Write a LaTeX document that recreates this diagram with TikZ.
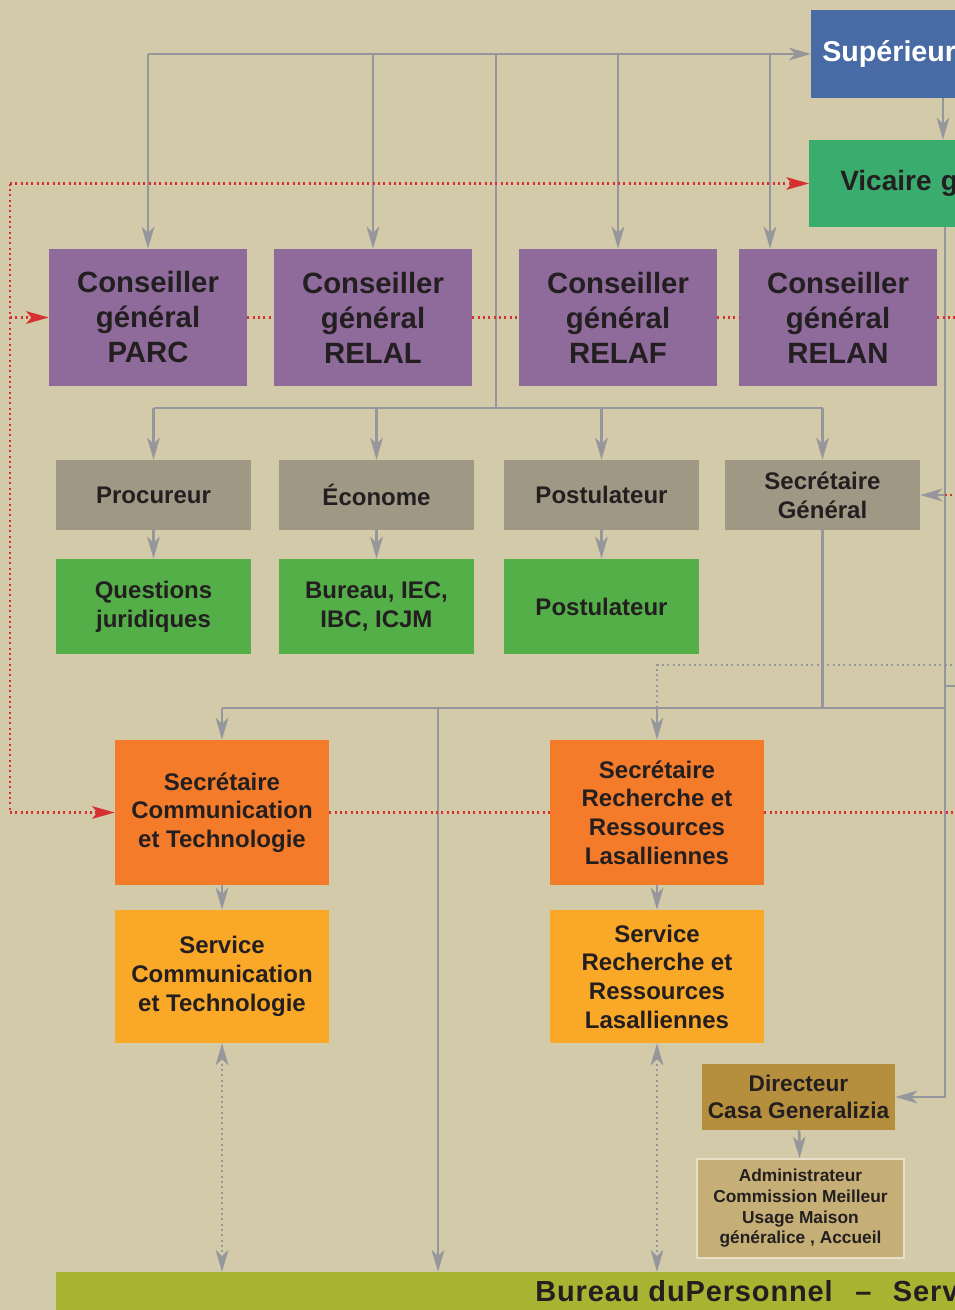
\documentclass[tikz,border=0pt]{standalone}
\usepackage{fontspec}
\setmainfont{Liberation Sans}
\usetikzlibrary{arrows.meta,calc}
\definecolor{bgc}{RGB}{211,202,170}
\definecolor{supc}{RGB}{72,107,166}
\definecolor{vicc}{RGB}{58,173,110}
\definecolor{purc}{RGB}{142,107,155}
\definecolor{greyc}{RGB}{158,152,132}
\definecolor{grnc}{RGB}{84,175,72}
\definecolor{orc}{RGB}{244,123,42}
\definecolor{lorc}{RGB}{250,168,40}
\definecolor{dirc}{RGB}{181,142,62}
\definecolor{admc}{RGB}{198,175,118}
\definecolor{barc}{RGB}{168,179,50}
\definecolor{linec}{RGB}{150,151,156}
\definecolor{redc}{RGB}{214,48,48}
\definecolor{txtc}{RGB}{35,31,32}
\begin{document}
\begin{tikzpicture}[x=0.75pt,y=-0.75pt,
  box/.style={rectangle, inner sep=0pt, align=center, text=txtc},
  sz/.style 2 args={minimum width={#1*0.75pt}, minimum height={#2*0.75pt}},
  fcons/.style={font=\fontsize{22pt}{26.25pt}\selectfont\bfseries},
  fmid/.style={font=\fontsize{18pt}{21.5pt}\selectfont\bfseries},
  fdir/.style={font=\fontsize{17pt}{20.25pt}\selectfont\bfseries},
  fadm/.style={font=\fontsize{13pt}{15.5pt}\selectfont\bfseries},
  gline/.style={draw=linec, line width=2pt},
  garr/.style={gline, -{Stealth[length=16.5pt,width=9.5pt,inset=4.5pt]}},
  gdot/.style={draw=linec, line width=1.6pt, dash pattern=on 1.6pt off 2.4pt},
  gdarr/.style={gdot, {Stealth[length=16.5pt,width=9.5pt,inset=4.5pt]}-{Stealth[length=16.5pt,width=9.5pt,inset=4.5pt]}},
  rdot/.style={draw=redc, line width=1.6pt, dash pattern=on 1.6pt off 2.4pt},
  rarr/.style={rdot, -{Stealth[length=17pt,width=9.5pt,inset=4pt,fill=redc]}},
]
\useasboundingbox (0,0) rectangle (955,1310);
\fill[bgc] (0,0) rectangle (955,1310);

% ---- nodes ----
\node[box, anchor=west, fill=supc, text=white, sz={0}{88}, inner xsep=8.25pt, text width=225pt, align=left,
  font=\fontsize{21.5pt}{26pt}\selectfont\bfseries] (sup) at (811,54) {Supérieur};
\node[box, anchor=west, fill=vicc, sz={0}{87}, inner xsep=23.25pt, text width=187.5pt, align=left,
  font=\fontsize{21pt}{26pt}\selectfont\bfseries] (vic) at (809,183.5) {Vicaire général};

\node[box, fill=purc, sz={198}{137}, fcons] (parc)  at (148,317.5) {Conseiller\\général\\PARC};
\node[box, fill=purc, sz={198}{137}, fcons] (relal) at (373,317.5) {Conseiller\\général\\RELAL};
\node[box, fill=purc, sz={198}{137}, fcons] (relaf) at (618,317.5) {Conseiller\\général\\RELAF};
\node[box, fill=purc, sz={198}{137}, fcons] (relan) at (838,317.5) {Conseiller\\général\\RELAN};

\node[box, fill=greyc, sz={195}{70}, fmid] (proc)   at (153.5,495) {Procureur};
\node[box, fill=greyc, sz={195}{70}, fmid] (econ)   at (376.5,495) {Économe};
\node[box, fill=greyc, sz={195}{70}, fmid] (postg)  at (601.5,495) {Postulateur};
\node[box, fill=greyc, sz={195}{70}, fmid] (secgen) at (822.5,495) {Secrétaire\\Général};

\node[box, fill=grnc, sz={195}{95}, fmid] (quest)  at (153.5,606.5) {Questions\\juridiques};
\node[box, fill=grnc, sz={195}{95}, fmid] (bureau) at (376.5,606.5) {Bureau, IEC,\\IBC, ICJM};
\node[box, fill=grnc, sz={195}{95}, fmid] (postv)  at (601.5,606.5) {Postulateur};

\node[box, fill=orc, sz={214}{145}, fmid] (seccomm) at (222,812.5) {Secrétaire\\Communication\\et Technologie};
\node[box, fill=orc, sz={214}{145}, fmid] (secrech) at (657,812.5) {Secrétaire\\Recherche et\\Ressources\\Lasalliennes};
\node[box, fill=lorc, sz={214}{133}, fmid] (servcomm) at (222,976.5) {Service\\Communication\\et Technologie};
\node[box, fill=lorc, sz={214}{133}, fmid] (servrech) at (657,976.5) {Service\\Recherche et\\Ressources\\Lasalliennes};

\node[box, fill=dirc, sz={193}{66}, fdir] (dir) at (798.5,1097) {Directeur\\Casa Generalizia};
\node[box, fill=admc, draw=admc!40!white, line width=0.8pt, sz={207}{99}, fadm] (admin) at (800.5,1208.5)
  {Administrateur\\Commission Meilleur\\Usage Maison\\généralice , Accueil};

\node[box, anchor=north west, fill=barc, sz={1000}{60}] (bar) at (56,1272) {};
\node[anchor=base west, inner sep=0pt, text=txtc,
  font=\fontsize{21.75pt}{26pt}\selectfont\bfseries\addfontfeatures{LetterSpace=3}] (bartxt) at (535,1301)
  {Bureau duPersonnel\hspace{17pt}–\hspace{16pt}Serv};

% ---- coordinates ----
\coordinate (ta) at (148,54);
\coordinate (tm) at (496,54);
\coordinate (tr) at (770,54);
\coordinate (hm) at (496,408);
\coordinate (sv) at (943,0);
\coordinate (rv) at (945,0);
\coordinate (hb) at (438,708);
\coordinate (stub) at (945,686);
\coordinate (gd) at (975,665);
\coordinate (rl) at (10,183.5);

% ---- grey solid connectors ----
\draw[garr] (ta) -- (ta -| sup.west);
\draw[garr] (ta) -- (parc.north);
\draw[garr] (ta -| relal.north) -- (relal.north);
\draw[garr] (ta -| relaf.north) -- (relaf.north);
\draw[garr] (tr) -- (tr |- relan.north);
\draw[gline] (tm) -- (hm);
\draw[gline] (proc.north |- hm) -- (secgen.north |- hm);
\draw[garr] (proc.north |- hm) -- (proc.north);
\draw[garr] (econ.north |- hm) -- (econ.north);
\draw[garr] (postg.north |- hm) -- (postg.north);
\draw[garr] (secgen.north |- hm) -- (secgen.north);
\draw[garr] (proc) -- (quest);
\draw[garr] (econ) -- (bureau);
\draw[garr] (postg) -- (postv);
\draw[garr] (sv |- sup.south) -- (sv |- vic.north);
\draw[garr] (rv |- vic.south) |- (dir.east);
\draw[garr] (rv |- secgen.east) -- (secgen.east);
\draw[gline] (stub) -- ++(30,0);
\draw[gline] (secgen.south) -- (secgen.south |- hb);
\draw[gline] (seccomm.north |- hb) -- (rv |- hb);
\draw[garr] (seccomm.north |- hb) -- (seccomm.north);
\draw[garr] (secrech.north |- hb) -- (secrech.north);
\draw[garr] (hb) -- (hb |- bar.north);
\draw[garr] (seccomm) -- (servcomm);
\draw[garr] (secrech) -- (servrech);
\draw[garr] (dir) -- (admin);

% ---- grey dotted ----
\draw[gdot] (secrech.north |- hb) |- (gd);
\draw[gdarr] (servcomm.south) -- (servcomm.south |- bar.north);
\draw[gdarr] (servrech.south) -- (servrech.south |- bar.north);

% ---- red dotted ----
\draw[rarr] (rl) -- (rl -| vic.west);
\draw[rdot] (rl) -- (rl |- seccomm.west);
\draw[rarr] (rl |- parc.west) -- (parc.west);
\draw[rarr] (rl |- seccomm.west) -- (seccomm.west);
\draw[rdot] (parc.east) -- (relal.west);
\draw[rdot] (relal.east) -- (relaf.west);
\draw[rdot] (relaf.east) -- (relan.west);
\draw[rdot] (relan.east) -- ++(40,0);
\draw[rdot] (seccomm.east) -- (secrech.west);
\draw[rdot] (secrech.east) -- ++(220,0);
\draw[rdot] (rv |- secgen.east) -- ++(20,0);
\end{tikzpicture}
\end{document}
